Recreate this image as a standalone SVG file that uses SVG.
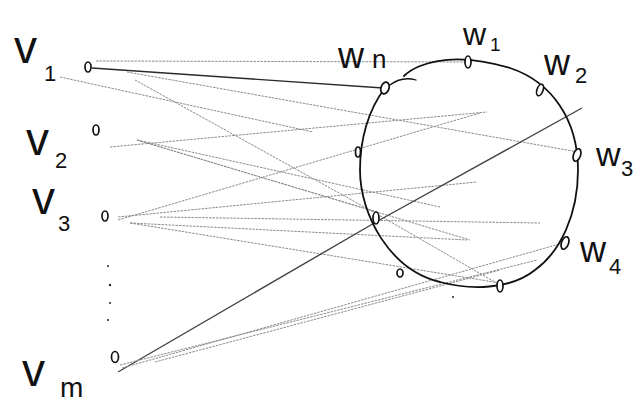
<svg xmlns="http://www.w3.org/2000/svg" width="644" height="406" viewBox="0 0 644 406">
<style>
.lbl{font-family:"Liberation Sans","DejaVu Sans",sans-serif;fill:#111}
.big{font-size:46px}
.sub{font-size:22px}
.wl{font-size:36px}
.node{fill:#fff;stroke:#111;stroke-width:1.7}
.e{fill:none;stroke:#8c8c8c;stroke-width:1;stroke-dasharray:2.5 1}
.ed{fill:none;stroke:#2a2a2a;stroke-width:1.4}
.circ{fill:none;stroke:#111;stroke-width:1.8;stroke-linecap:round}
</style>
<rect width="644" height="406" fill="#fff"/>
<g id="connectors">
<path class="e" d="M96,61 L470,62"/>
<path class="ed" d="M92,68 L383,88"/>
<path class="e" d="M127,72 L578,152"/>
<path class="e" d="M60,77 L313,132"/>
<path class="e" d="M135,80 L377,214 L500,285"/>
<path class="e" d="M110,147 L487,112"/>
<path class="e" d="M137,140 L440,207"/>
<path class="e" d="M137,140 L470,240"/>
<path class="e" d="M137,140 L377,212"/>
<path class="e" d="M118,220 L480,113"/>
<path class="e" d="M118,217 L477,182"/>
<path class="e" d="M160,217 L540,223"/>
<path class="e" d="M130,223 L467,240"/>
<path class="e" d="M130,223 L500,283"/>
<path class="ed" style="stroke:#444" d="M118,372 L376,222 L582,108"/>
<path class="e" d="M120,365 L537,260"/>
<path class="e" d="M155,362 L500,270"/>
<path class="e" d="M122,368 L563,243"/>
</g>
<g id="circle">
<path class="circ" d="M385,88 C368,110 360,140 360,170 C360,215 390,270 440,282 C470,290 510,290 535,270 C560,252 578,215 578,170 C578,120 552,82 510,68 C470,56 440,58 420,66 Q410,70 404,76"/>
<path class="circ" style="stroke-width:1.3" d="M390,85 Q402,76 416,80"/>
<circle cx="453" cy="297" r="1" fill="#222"/>
</g>
<g id="v1"><ellipse class="node" cx="88" cy="67" rx="3" ry="5"/><text class="lbl big" x="14" y="63">v</text><text class="lbl sub" x="44" y="81">1</text></g>
<g id="v2"><ellipse class="node" cx="96" cy="130" rx="3" ry="5"/><text class="lbl big" x="26" y="155">v</text><text class="lbl sub" x="55" y="168">2</text></g>
<g id="v3"><ellipse class="node" cx="105" cy="216" rx="3" ry="5"/><text class="lbl big" x="32" y="214">v</text><text class="lbl sub" x="58" y="231">3</text></g>
<g id="dots"><circle cx="108" cy="266" r="1" fill="#222"/><circle cx="110" cy="285" r="1.2" fill="#222"/><circle cx="110" cy="303" r="1" fill="#222"/><circle cx="108" cy="320" r="1" fill="#222"/></g>
<g id="vm"><ellipse class="node" cx="115" cy="357" rx="3.5" ry="5.5"/><text class="lbl big" x="22" y="386">v</text><text class="lbl sub" x="60" y="397" style="font-size:28px">m</text></g>
<g id="wn"><ellipse class="node" cx="385" cy="88" rx="4" ry="6" transform="rotate(20 385 88)"/><text class="lbl wl" x="338" y="68">w</text><text class="lbl sub" x="372" y="68" style="font-size:26px">n</text></g>
<g id="w1"><ellipse class="node" cx="468" cy="62" rx="3" ry="6"/><text class="lbl wl" x="463" y="45" style="font-size:32px">w</text><text class="lbl sub" x="490" y="51" style="font-size:19px">1</text></g>
<g id="w2"><ellipse class="node" cx="540" cy="90" rx="3" ry="6" transform="rotate(20 540 90)"/><text class="lbl wl" x="544" y="75">w</text><text class="lbl sub" x="575" y="83">2</text></g>
<g id="w3"><ellipse class="node" cx="577" cy="155" rx="3.5" ry="6.5" transform="rotate(20 577 155)"/><text class="lbl wl" x="596" y="166" style="font-size:34px">w</text><text class="lbl sub" x="621" y="176">3</text></g>
<g id="w4"><ellipse class="node" cx="565" cy="243" rx="3.5" ry="6.5" transform="rotate(20 565 243)"/><text class="lbl wl" x="580" y="262">w</text><text class="lbl sub" x="609" y="274">4</text></g>
<g id="u1"><ellipse class="node" cx="358" cy="152" rx="2.5" ry="5"/></g>
<g id="u2"><ellipse class="node" cx="376" cy="218" rx="3" ry="6"/></g>
<g id="u3"><ellipse class="node" cx="400" cy="273" rx="3" ry="4"/></g>
<g id="u4"><ellipse class="node" cx="500" cy="286" rx="3" ry="6"/></g>
</svg>
